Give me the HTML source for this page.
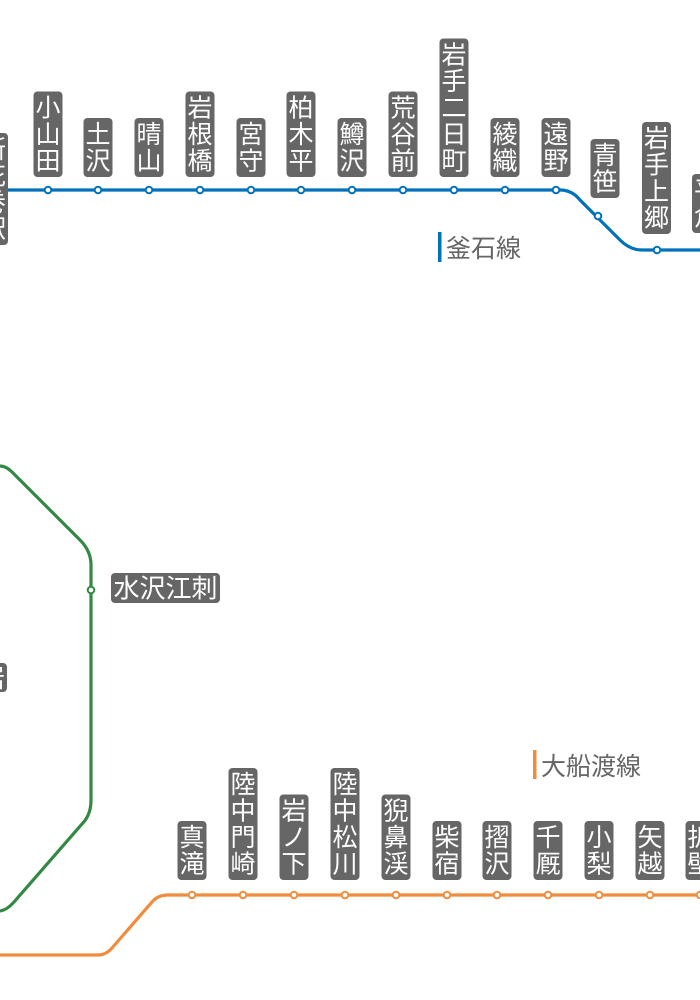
<!DOCTYPE html>
<html><head><meta charset="utf-8"><style>
html,body{margin:0;padding:0;background:#fff;}
svg{display:block}
text{font-family:"Liberation Sans","Noto Sans CJK JP",sans-serif;}
.l text{fill:#fff;font-size:25px;text-anchor:middle;}
.b{fill:#666;}
</style></head><body>
<svg width="700" height="1000" viewBox="0 0 700 1000" xmlns="http://www.w3.org/2000/svg">
<path d="M0 190 H560 Q572 190 580 200 L620 240 Q630 250 642 250 H700" fill="none" stroke="#0072bc" stroke-width="3.2"/>
<path d="M0 466 Q6 466 12 472 L80 540 Q91 551 91 565 V800 Q91 815 82 824 L14 902 Q7 910 0 911" fill="none" stroke="#338844" stroke-width="3.2"/>
<path d="M0 955 H98 Q106 955 112 948 L152 902 Q158 895 168 895 H700" fill="none" stroke="#f08c3c" stroke-width="3.2"/>

<g fill="#fff" stroke="#0072bc" stroke-width="2">
<circle cx="48" cy="190" r="3.3"/><circle cx="98" cy="190" r="3.3"/><circle cx="149" cy="190" r="3.3"/><circle cx="200" cy="190" r="3.3"/><circle cx="251" cy="190" r="3.3"/><circle cx="301" cy="190" r="3.3"/><circle cx="352" cy="190" r="3.3"/><circle cx="403" cy="190" r="3.3"/><circle cx="454" cy="190" r="3.3"/><circle cx="505" cy="190" r="3.3"/><circle cx="556" cy="190" r="3.3"/><circle cx="598" cy="216" r="3.3"/><circle cx="657" cy="250" r="3.3"/>
</g>
<circle cx="91" cy="590" r="3.3" fill="#fff" stroke="#338844" stroke-width="2"/>
<g fill="#fff" stroke="#f08c3c" stroke-width="2">
<circle cx="192" cy="895" r="3.3"/><circle cx="243" cy="895" r="3.3"/><circle cx="294" cy="895" r="3.3"/><circle cx="345" cy="895" r="3.3"/><circle cx="396" cy="895" r="3.3"/><circle cx="447" cy="895" r="3.3"/><circle cx="497" cy="895" r="3.3"/><circle cx="548" cy="895" r="3.3"/><circle cx="599" cy="895" r="3.3"/><circle cx="650" cy="895" r="3.3"/><circle cx="700" cy="895" r="3.3"/>
</g>

<g class="l">
<rect class="b" x="-21" y="133" width="29" height="112" rx="4"/>
<text x="-6.5" y="158">新</text><text x="-6.5" y="184.5">花</text><text x="-6.5" y="211">巻</text><text x="-6.5" y="237.5">駅</text>

<rect class="b" x="33.5" y="91.5" width="29" height="85.5" rx="4"/>
<text x="48" y="116.5">小</text><text x="48" y="143">山</text><text x="48" y="169.5">田</text>

<rect class="b" x="83.5" y="118" width="29" height="59" rx="4"/>
<text x="98" y="143">土</text><text x="98" y="169.5">沢</text>

<rect class="b" x="134.5" y="118" width="29" height="59" rx="4"/>
<text x="149" y="143">晴</text><text x="149" y="169.5">山</text>

<rect class="b" x="185.5" y="91.5" width="29" height="85.5" rx="4"/>
<text x="200" y="116.5">岩</text><text x="200" y="143">根</text><text x="200" y="169.5">橋</text>

<rect class="b" x="236.5" y="118" width="29" height="59" rx="4"/>
<text x="251" y="143">宮</text><text x="251" y="169.5">守</text>

<rect class="b" x="286.5" y="91.5" width="29" height="85.5" rx="4"/>
<text x="301" y="116.5">柏</text><text x="301" y="143">木</text><text x="301" y="169.5">平</text>

<rect class="b" x="337.5" y="118" width="29" height="59" rx="4"/>
<text x="352" y="143">鱒</text><text x="352" y="169.5">沢</text>

<rect class="b" x="388.5" y="91.5" width="29" height="85.5" rx="4"/>
<text x="403" y="116.5">荒</text><text x="403" y="143">谷</text><text x="403" y="169.5">前</text>

<rect class="b" x="439.5" y="38.5" width="29" height="138.5" rx="4"/>
<text x="454" y="63.5">岩</text><text x="454" y="90">手</text><text x="454" y="116.5">二</text><text x="454" y="143">日</text><text x="454" y="169.5">町</text>

<rect class="b" x="490.5" y="118" width="29" height="59" rx="4"/>
<text x="505" y="143">綾</text><text x="505" y="169.5">織</text>

<rect class="b" x="541.5" y="118" width="29" height="59" rx="4"/>
<text x="556" y="143">遠</text><text x="556" y="169.5">野</text>

<rect class="b" x="590.5" y="139" width="29" height="59" rx="4"/>
<text x="605" y="164">青</text><text x="605" y="190.5">笹</text>

<rect class="b" x="642" y="122" width="29" height="112" rx="4"/>
<text x="656.5" y="147">岩</text><text x="656.5" y="173.5">手</text><text x="656.5" y="200">上</text><text x="656.5" y="226.5">郷</text>

<rect class="b" x="692" y="174" width="29" height="59" rx="4"/>
<text x="706.5" y="199">平</text><text x="706.5" y="225.5">倉</text>

<rect class="b" x="111" y="573" width="109" height="30" rx="4"/>
<text x="165.5" y="597.5" style="font-size:26px">水沢江刺</text>
<rect class="b" x="-22" y="663" width="29" height="29" rx="4"/>
<text x="-7.5" y="687">岩</text>

<rect class="b" x="177.5" y="821" width="29" height="59" rx="4"/>
<text x="192" y="846">真</text><text x="192" y="872.5">滝</text>

<rect class="b" x="228.5" y="768" width="29" height="112" rx="4"/>
<text x="243" y="793">陸</text><text x="243" y="819.5">中</text><text x="243" y="846">門</text><text x="243" y="872.5">崎</text>

<rect class="b" x="279.5" y="794.5" width="29" height="85.5" rx="4"/>
<text x="294" y="819.5">岩</text><text x="294" y="846">ノ</text><text x="294" y="872.5">下</text>

<rect class="b" x="330.5" y="768" width="29" height="112" rx="4"/>
<text x="345" y="793">陸</text><text x="345" y="819.5">中</text><text x="345" y="846">松</text><text x="345" y="872.5">川</text>

<rect class="b" x="381.5" y="794.5" width="29" height="85.5" rx="4"/>
<text x="396" y="819.5">猊</text><text x="396" y="846">鼻</text><text x="396" y="872.5">渓</text>

<rect class="b" x="432.5" y="821" width="29" height="59" rx="4"/>
<text x="447" y="846">柴</text><text x="447" y="872.5">宿</text>

<rect class="b" x="482.5" y="821" width="29" height="59" rx="4"/>
<text x="497" y="846">摺</text><text x="497" y="872.5">沢</text>

<rect class="b" x="533.5" y="821" width="29" height="59" rx="4"/>
<text x="548" y="846">千</text><text x="548" y="872.5">厩</text>

<rect class="b" x="584.5" y="821" width="29" height="59" rx="4"/>
<text x="599" y="846">小</text><text x="599" y="872.5">梨</text>

<rect class="b" x="635.5" y="821" width="29" height="59" rx="4"/>
<text x="650" y="846">矢</text><text x="650" y="872.5">越</text>

<rect class="b" x="685.5" y="821" width="29" height="59" rx="4"/>
<text x="700" y="846">折</text><text x="700" y="872.5">壁</text>
</g>

<rect x="438" y="232" width="3.5" height="30" fill="#0072bc"/>
<text x="446" y="257" font-size="25" fill="#666">釜石線</text>
<rect x="533" y="750" width="3.5" height="29" fill="#f08c3c"/>
<text x="541" y="775" font-size="25" fill="#666">大船渡線</text>
</svg>
</body></html>
